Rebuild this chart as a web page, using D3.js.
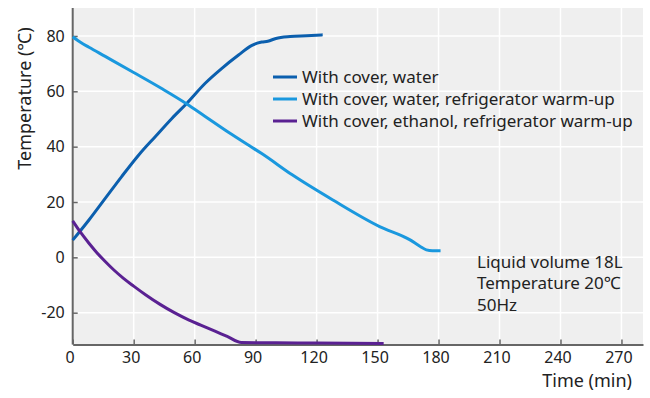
<!DOCTYPE html>
<html>
<head>
<meta charset="utf-8">
<script src="https://cdn.jsdelivr.net/npm/d3@7"></script>
<style>
  body { margin: 0; background: #fff; }
  text { font-family: "Noto Sans", "DejaVu Sans", sans-serif; fill: #222; }
</style>
</head>
<body>
<div id="chart"></div>
<script>
// Datos
const timeWater = [0, 8, 16, 24, 32.5, 40.6, 48.8, 56.2, 65.2, 73.4, 81.6, 88.2, 93, 96, 100, 107, 115, 123];
const tempWater = [6.2, 13.5, 21.3, 29.1, 37.0, 43.6, 50.2, 55.7, 62.9, 68.3, 73.1, 76.6, 77.8, 78.1, 79.1, 79.8, 80.1, 80.4];

const timeRefWater = [0, 4, 8, 16, 30, 44, 56, 65, 77, 87, 93, 108, 128, 151, 166, 171, 174, 177, 181];
const tempRefWater = [79.7, 77.6, 75.9, 72.6, 66.8, 60.9, 55.5, 51.0, 45.0, 40.3, 37.5, 29.8, 20.7, 11.1, 6.3, 3.9, 2.7, 2.4, 2.4];

const timeRefEthanol = [0, 4, 8, 12, 16, 20, 25, 30, 36, 43, 50, 57, 63, 70, 76, 83, 100, 120, 153];
const tempRefEthanol = [13.2, 8.9, 5.1, 1.6, -1.5, -4.4, -7.6, -10.4, -13.6, -17.0, -20.0, -22.6, -24.5, -26.7, -28.6, -30.8, -30.9, -31.0, -31.1];

const xTicks = [0, 30, 60, 90, 120, 150, 180, 210, 240, 270];
const yTicks = [-20, 0, 20, 40, 60, 80];

const seriesNames = ["With cover, water", "With cover, water, refrigerator warm-up", "With cover, ethanol, refrigerator warm-up"];
const seriesColors = ["#0b5fae", "#1a98de", "#5a2192"];
const noteLines = ["Liquid volume 18L", "Temperature 20\u2103", "50Hz"];

const width = 650;
const height = 398;
const plot = { left: 72.7, right: 643, top: 8, bottom: 344.5 };

const x = d3.scaleLinear().domain([0, 280.6]).range([plot.left, plot.right]);
const y = d3.scaleLinear().domain([-31.5, 90.1]).range([plot.bottom, plot.top]);

const svg = d3.select("#chart").append("svg")
    .attr("width", width)
    .attr("height", height);

// Fondo del area del grafico
svg.append("rect")
    .attr("x", plot.left)
    .attr("y", plot.top)
    .attr("width", plot.right - plot.left)
    .attr("height", plot.bottom - plot.top)
    .attr("fill", "#efefef");

// Rejilla
svg.append("g").selectAll("line")
    .data(xTicks.filter(d => d > 0))
    .enter().append("line")
    .attr("x1", d => x(d)).attr("x2", d => x(d))
    .attr("y1", plot.top).attr("y2", plot.bottom)
    .attr("stroke", "#fff").attr("stroke-width", 1.5);

svg.append("g").selectAll("line")
    .data(yTicks)
    .enter().append("line")
    .attr("x1", plot.left).attr("x2", plot.right)
    .attr("y1", d => y(d)).attr("y2", d => y(d))
    .attr("stroke", "#fff").attr("stroke-width", 1.5);

// Ejes
const xAxis = svg.append("g")
    .attr("transform", `translate(0, ${plot.bottom})`)
    .call(d3.axisBottom(x).tickValues(xTicks).tickFormat(d => String(d))
        .tickSizeInner(-5).tickSizeOuter(0).tickPadding(7));

const yAxis = svg.append("g")
    .attr("transform", `translate(${plot.left}, 0)`)
    .call(d3.axisLeft(y).tickValues(yTicks).tickFormat(d => String(d))
        .tickSizeInner(-5).tickSizeOuter(0).tickPadding(8));

[xAxis, yAxis].forEach(a => {
    a.select(".domain").attr("stroke", "#666").attr("stroke-width", 2);
    a.selectAll(".tick line").attr("stroke", "#666").attr("stroke-width", 1.5);
    a.selectAll(".tick text").attr("font-size", 16).attr("fill", "#222")
        .attr("font-family", "\"Noto Sans\", \"DejaVu Sans\", sans-serif");
});
xAxis.selectAll(".tick text").attr("dx", -3);
// la linea del eje y hasta arriba
yAxis.select(".domain").attr("d", `M0,${plot.top}V${plot.bottom}`);

// Lineas de datos
const line = d3.line()
    .x(d => x(d[0]))
    .y(d => y(d[1]))
    .curve(d3.curveMonotoneX);

const series = [
    d3.zip(timeWater, tempWater),
    d3.zip(timeRefWater, tempRefWater),
    d3.zip(timeRefEthanol, tempRefEthanol)
];

svg.append("g").selectAll("path")
    .data(series)
    .enter().append("path")
    .attr("d", line)
    .attr("fill", "none")
    .attr("stroke", (d, i) => seriesColors[i])
    .attr("stroke-width", 3)
    .attr("stroke-linecap", "butt");

// Leyenda
const legend = svg.append("g").attr("transform", "translate(273, 77)");
const rows = legend.selectAll("g")
    .data(seriesNames)
    .enter().append("g")
    .attr("transform", (d, i) => `translate(0, ${i * 22})`);

rows.append("line")
    .attr("x1", 0).attr("x2", 24)
    .attr("stroke", (d, i) => seriesColors[i])
    .attr("stroke-width", 3);

rows.append("text")
    .attr("x", 29)
    .attr("dy", "0.36em")
    .attr("font-size", 17)
    .text(d => d);

// Nota de condiciones
svg.append("g").selectAll("text")
    .data(noteLines)
    .enter().append("text")
    .attr("x", 477)
    .attr("y", (d, i) => 267.5 + i * 21.5)
    .attr("font-size", 17)
    .text(d => d);

// Titulos de ejes
svg.append("text")
    .attr("transform", "translate(31, 98.5) rotate(-90)")
    .attr("text-anchor", "middle")
    .attr("font-size", 18)
    .text("Temperature (\u2103)");

svg.append("text")
    .attr("x", 632)
    .attr("y", 387)
    .attr("text-anchor", "end")
    .attr("font-size", 18)
    .text("Time (min)");
</script>
</body>
</html>
